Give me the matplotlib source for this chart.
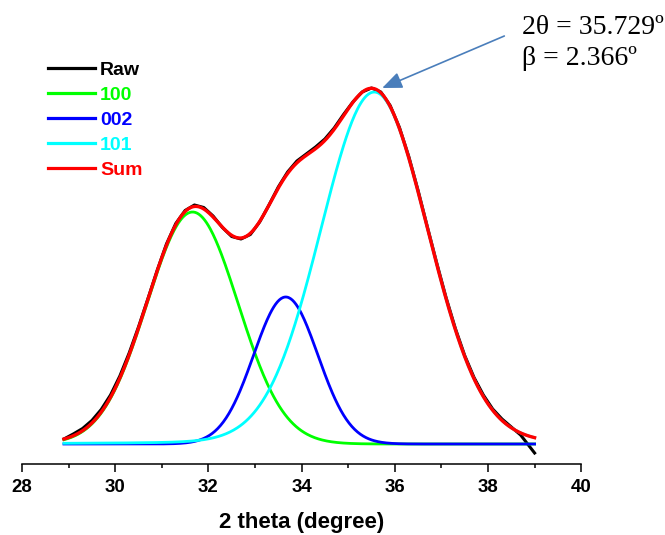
import numpy as np
import matplotlib
matplotlib.use("Agg")
import matplotlib.pyplot as plt

# Measured diffraction scan (2 theta in degrees, intensity in a.u.)
raw_2theta = [28.9, 29.1, 29.3, 29.5, 29.7, 29.9, 30.1, 30.3, 30.5, 30.7,
              30.9, 31.1, 31.3, 31.5, 31.7, 31.9, 32.1, 32.3, 32.5, 32.7,
              32.9, 33.1, 33.3, 33.5, 33.7, 33.9, 34.1, 34.3, 34.5, 34.7,
              34.9, 35.1, 35.3, 35.5, 35.7, 35.9, 36.1, 36.3, 36.5, 36.7,
              36.9, 37.1, 37.3, 37.5, 37.7, 37.9, 38.1, 38.3, 38.5, 38.7,
              38.9, 39.0]
raw_intensity = [5.0, 10.0, 15.5, 23.5, 34.5, 49.0, 68.0, 91.0, 117.0, 145.0,
                 173.5, 200.0, 220.5, 233.5, 239.0, 236.5, 228.0, 216.5, 207.5, 205.0,
                 209.5, 222.0, 239.0, 257.0, 272.0, 283.0, 290.0, 297.0, 305.0, 316.0,
                 329.5, 342.0, 352.0, 356.0, 352.0, 338.5, 316.5, 287.5, 253.5, 217.0,
                 181.0, 146.5, 115.5, 88.5, 66.5, 49.0, 35.0, 25.0, 17.0, 9.0,
                 -3.0, -9.0]

# Fitted peak components (pseudo-Voigt): reflection, centre (deg), FWHM (deg), height (a.u.), Lorentz fraction
peak_labels = ["100", "002", "101"]
peak_centers = [31.66, 33.66, 35.56]
peak_fwhm = [2.30, 1.62, 2.72]
peak_heights = [232.0, 147.0, 352.0]
peak_eta = [0.0, 0.0, 0.05]
peak_colors = ["#00FF00", "#0000FF", "#00FFFF"]

# Reported position and breadth of the (101) reflection
peak_101_2theta = 35.729
peak_101_beta = 2.366

x_ticks = [28, 30, 32, 34, 36, 38, 40]


def pseudo_voigt(x, c, w, h, eta):
    u2 = ((x - c) / w) ** 2
    g = np.exp(-4 * np.log(2) * u2)
    lor = 1.0 / (1.0 + 4 * u2)
    return h * (eta * lor + (1 - eta) * g)


x = np.linspace(raw_2theta[0], raw_2theta[-1], 506)
comps = [pseudo_voigt(x, c, w, h, e)
         for c, w, h, e in zip(peak_centers, peak_fwhm, peak_heights, peak_eta)]
total = np.sum(comps, axis=0)

plt.rcParams["font.family"] = ["Liberation Sans", "DejaVu Sans"]

fig = plt.figure(figsize=(6.65, 5.35), dpi=100)
ax = fig.add_axes([22 / 665, 71 / 535, 559.2 / 665, 464 / 535])
ax.plot(raw_2theta, raw_intensity, color="black", lw=2.2, label="Raw")
for comp, col, lab in zip(comps, peak_colors, peak_labels):
    ax.plot(x, comp, color=col, lw=2.0, label=lab)
ax.plot(x, total, color="red", lw=2.4, label="Sum")

ax.set_xlim(28, 40)
ax.set_ylim(-20, 444)
for s in ["left", "right", "top"]:
    ax.spines[s].set_visible(False)
ax.spines["bottom"].set_linewidth(1.1)
ax.set_yticks([])
ax.set_xticks(x_ticks)
ax.set_xticks(np.arange(29, 40, 2), minor=True)
ax.tick_params(axis="x", which="major", direction="out", length=6, width=1.1, pad=5,
               labelsize=13.4)
ax.tick_params(axis="x", which="minor", direction="out", length=3, width=1.1)
for t in ax.get_xticklabels():
    t.set_fontweight("bold")
ax.set_xlabel("2 theta (degree)", fontsize=16, fontweight="bold", labelpad=11)

leg = ax.legend(loc="upper left", bbox_to_anchor=(48 / 665, 1 - 61 / 535),
                bbox_transform=fig.transFigure, frameon=False, borderpad=0,
                borderaxespad=0, handlelength=2.42, handletextpad=0.26,
                labelspacing=0.38, prop={"weight": "bold", "size": 14})
for line, text in zip(leg.get_lines(), leg.get_texts()):
    text.set_color(line.get_color())
    line.set_linewidth(2.3)

# Arrow marking the (101) peak position
ax.annotate("", xy=(peak_101_2theta, 356), xytext=(38.35, 408),
            arrowprops=dict(arrowstyle="-|>,head_length=1.2,head_width=0.5",
                            color="#4A7EBB", lw=1.2, shrinkA=0, shrinkB=0),
            annotation_clip=False)
serif = ["Liberation Serif", "DejaVu Serif"]
fig.text(522 / 665, 1 - 34 / 535, f"2\u03b8 = {peak_101_2theta:.3f}\u00ba",
         fontsize=20, family=serif, va="baseline", ha="left")
fig.text(522 / 665, 1 - 65 / 535, f"\u03b2 = {peak_101_beta:.3f}\u00ba",
         fontsize=20, family=serif, va="baseline", ha="left")

fig.savefig("out.png", dpi=100)
